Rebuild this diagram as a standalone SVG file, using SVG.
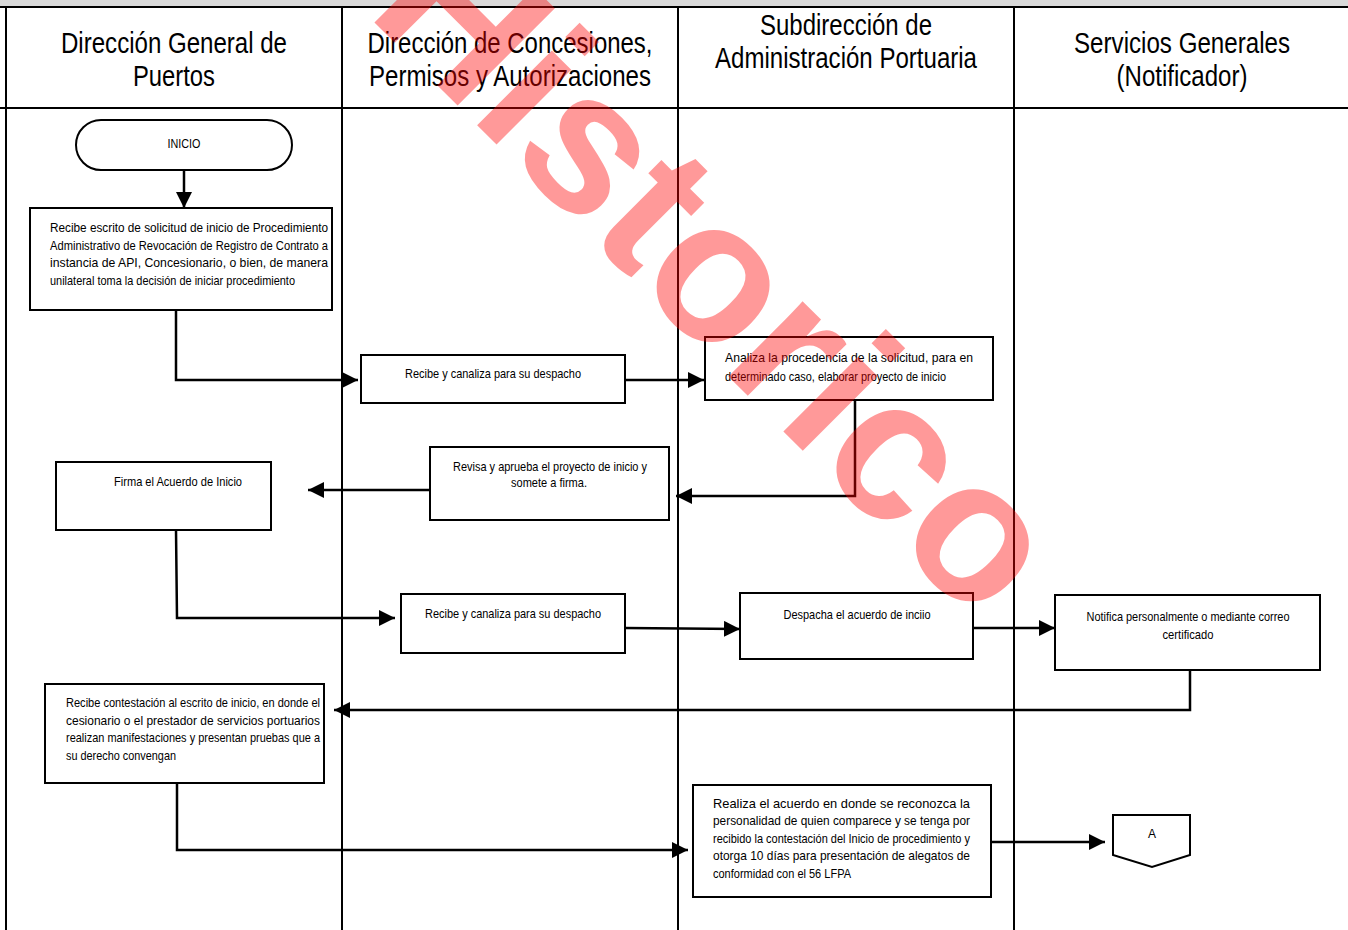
<svg xmlns="http://www.w3.org/2000/svg" width="1348" height="930" viewBox="0 0 1348 930">
<style>
.frame{stroke:#000;stroke-width:2;fill:none}
.box{fill:#fff;stroke:#000;stroke-width:2}
.hd{font-family:"Liberation Sans",Arial,sans-serif;font-size:29px;fill:#000;text-anchor:middle}
.t{font-family:"Liberation Sans",Arial,sans-serif;font-size:13.4px;fill:#000}
.c{text-anchor:middle}
.conn{stroke:#000;stroke-width:2.5;fill:none;marker-end:url(#ah)}
.wm{font-family:"Liberation Sans",Arial,sans-serif;font-weight:bold;font-size:200px;fill:#f00;fill-opacity:0.4}
</style>
<defs>
<marker id="ah" viewBox="0 0 14 14" refX="14" refY="7" markerWidth="16" markerHeight="16" markerUnits="userSpaceOnUse" orient="auto">
<path d="M0,0 L14,7 L0,14 z" fill="#000"/>
</marker>
</defs>
<rect x="0" y="0" width="1348" height="930" fill="#fff"/>
<rect x="0" y="0" width="1348" height="7" fill="#d9d9d9"/>
<g id="lanes">
<line class="frame" x1="0" y1="7" x2="1348" y2="7"/>
<line class="frame" x1="0" y1="108" x2="1348" y2="108"/>
<line class="frame" x1="6" y1="7" x2="6" y2="930"/>
<line class="frame" x1="342" y1="7" x2="342" y2="930"/>
<line class="frame" x1="678" y1="7" x2="678" y2="930"/>
<line class="frame" x1="1014" y1="7" x2="1014" y2="930"/>
<text class="hd" x="174" y="53" textLength="226" lengthAdjust="spacingAndGlyphs">Dirección General de</text>
<text class="hd" x="174" y="86" textLength="82" lengthAdjust="spacingAndGlyphs">Puertos</text>
<text class="hd" x="510" y="53" textLength="285" lengthAdjust="spacingAndGlyphs">Dirección de Concesiones,</text>
<text class="hd" x="510" y="86" textLength="282" lengthAdjust="spacingAndGlyphs">Permisos y Autorizaciones</text>
<text class="hd" x="846" y="35" textLength="172" lengthAdjust="spacingAndGlyphs">Subdirección de</text>
<text class="hd" x="846" y="68" textLength="262" lengthAdjust="spacingAndGlyphs">Administración Portuaria</text>
<text class="hd" x="1182" y="53" textLength="216" lengthAdjust="spacingAndGlyphs">Servicios Generales</text>
<text class="hd" x="1182" y="86" textLength="131" lengthAdjust="spacingAndGlyphs">(Notificador)</text>
</g>
<g id="connectors">
<path class="conn" d="M184,170 V208"/>
<path class="conn" d="M176,310 V380 H358"/>
<path class="conn" d="M625,380 H704"/>
<path class="conn" d="M855,400 V496 H676"/>
<path class="conn" d="M432,490 H308"/>
<path class="conn" d="M176,530 L177,618 H395"/>
<path class="conn" d="M625,628 L740,629"/>
<path class="conn" d="M973,628 H1055"/>
<path class="conn" d="M1190,670 V710 H334"/>
<path class="conn" d="M177,783 V850 H688"/>
<path class="conn" d="M991,842 H1105"/>
</g>
<g id="inicio">
<rect class="box" x="76" y="120" width="216" height="50" rx="25" ry="25"/>
<text class="t c" x="184" y="148" textLength="33" lengthAdjust="spacingAndGlyphs">INICIO</text>
</g>
<g id="n1">
<rect class="box" x="30" y="208" width="302" height="102"/>
<text class="t" x="50" y="232" textLength="278" lengthAdjust="spacingAndGlyphs">Recibe escrito de solicitud de inicio de Procedimiento</text>
<text class="t" x="50" y="250" textLength="278" lengthAdjust="spacingAndGlyphs">Administrativo de Revocación de Registro de Contrato a</text>
<text class="t" x="50" y="267" textLength="278" lengthAdjust="spacingAndGlyphs">instancia de API, Concesionario, o bien, de manera</text>
<text class="t" x="50" y="285" textLength="245" lengthAdjust="spacingAndGlyphs">unilateral toma la decisión de iniciar procedimiento</text>
</g>
<g id="n2">
<rect class="box" x="361" y="355" width="264" height="48"/>
<text class="t c" x="493" y="378" textLength="176" lengthAdjust="spacingAndGlyphs">Recibe y canaliza para su despacho</text>
</g>
<g id="n3">
<rect class="box" x="705" y="337" width="288" height="63"/>
<text class="t" x="725" y="362" textLength="248" lengthAdjust="spacingAndGlyphs">Analiza la procedencia de la solicitud, para en</text>
<text class="t" x="725" y="381" textLength="221" lengthAdjust="spacingAndGlyphs">determinado caso, elaborar proyecto de inicio</text>
</g>
<g id="n4">
<rect class="box" x="430" y="447" width="239" height="73"/>
<text class="t c" x="550" y="471" textLength="194" lengthAdjust="spacingAndGlyphs">Revisa y aprueba el proyecto de inicio y</text>
<text class="t c" x="549" y="487" textLength="76" lengthAdjust="spacingAndGlyphs">somete a firma.</text>
</g>
<g id="n5">
<rect class="box" x="56" y="462" width="215" height="68"/>
<text class="t c" x="178" y="486" textLength="128" lengthAdjust="spacingAndGlyphs">Firma el Acuerdo de Inicio</text>
</g>
<g id="n6">
<rect class="box" x="401" y="594" width="224" height="59"/>
<text class="t c" x="513" y="618" textLength="176" lengthAdjust="spacingAndGlyphs">Recibe y canaliza para su despacho</text>
</g>
<g id="n7">
<rect class="box" x="740" y="593" width="233" height="66"/>
<text class="t c" x="857" y="619" textLength="147" lengthAdjust="spacingAndGlyphs">Despacha el acuerdo de inciio</text>
</g>
<g id="n8">
<rect class="box" x="1055" y="595" width="265" height="75"/>
<text class="t c" x="1188" y="621" textLength="203" lengthAdjust="spacingAndGlyphs">Notifica personalmente o mediante correo</text>
<text class="t c" x="1188" y="639" textLength="51" lengthAdjust="spacingAndGlyphs">certificado</text>
</g>
<g id="n9">
<rect class="box" x="45" y="684" width="279" height="99"/>
<text class="t" x="66" y="707" textLength="254" lengthAdjust="spacingAndGlyphs">Recibe contestación al escrito de inicio, en donde el</text>
<text class="t" x="66" y="725" textLength="254" lengthAdjust="spacingAndGlyphs">cesionario o el prestador de servicios portuarios</text>
<text class="t" x="66" y="742" textLength="254" lengthAdjust="spacingAndGlyphs">realizan manifestaciones y presentan pruebas que a</text>
<text class="t" x="66" y="760" textLength="110" lengthAdjust="spacingAndGlyphs">su derecho convengan</text>
</g>
<g id="n10">
<rect class="box" x="693" y="785" width="298" height="112"/>
<text class="t" x="713" y="808" textLength="257" lengthAdjust="spacingAndGlyphs">Realiza el acuerdo en donde se reconozca la</text>
<text class="t" x="713" y="825" textLength="257" lengthAdjust="spacingAndGlyphs">personalidad de quien comparece y se tenga por</text>
<text class="t" x="713" y="843" textLength="257" lengthAdjust="spacingAndGlyphs">recibido la contestación del Inicio de procedimiento y</text>
<text class="t" x="713" y="860" textLength="257" lengthAdjust="spacingAndGlyphs">otorga 10 días para presentación de alegatos de</text>
<text class="t" x="713" y="878" textLength="138" lengthAdjust="spacingAndGlyphs">conformidad con el 56 LFPA</text>
</g>
<g id="connA">
<path class="box" d="M1113,815 H1190 V855 L1152,867 L1113,855 Z" stroke-width="1.5"/>
<text class="t c" x="1152" y="838" textLength="8" lengthAdjust="spacingAndGlyphs">A</text>
</g>
<text class="wm" x="365" y="13" transform="rotate(45 365 13)">Historico</text>
</svg>
